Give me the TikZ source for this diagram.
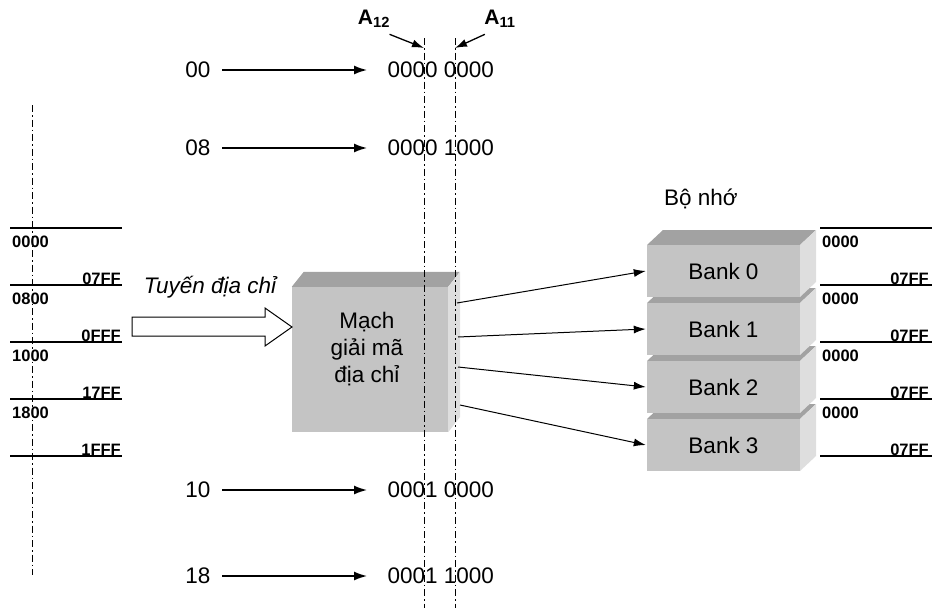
\documentclass[tikz,border=0pt]{standalone}
\usepackage{fontspec}
\setmainfont{Liberation Sans}
\usetikzlibrary{arrows.meta}

\definecolor{facefront}{HTML}{C4C4C4}
\definecolor{facetop}{HTML}{A2A2A2}
\definecolor{faceside}{HTML}{DEDEDE}

\tikzset{
  big/.style={font=\fontsize{22.5}{27}\selectfont},
  addr/.style={font=\fontsize{16.5}{18}\selectfont\bfseries, inner sep=0pt},
  dashdot/.style={line width=0.8pt, dash pattern=on 7pt off 3pt on 1.5pt off 3pt},
  bigtip/.style={-{Latex[length=13pt,width=9pt]}, line width=1.5pt},
  smalltip/.style={-{Latex[length=12pt,width=8pt]}, line width=1pt},
  bank/.style={fill=facefront, minimum width=153pt, minimum height=52pt, inner sep=0pt,
    font=\fontsize{22.5}{27}\selectfont},
}

\begin{document}
\begin{tikzpicture}[x=1pt,y=-1pt]
  \useasboundingbox (0,0) rectangle (932,608);

  % hex -> binary rows
  \foreach \y/\h/\b [count=\n] in {70/00/0000 0000, 148/08/0000 1000, 490/10/0001 0000, 576/18/0001 1000}{
    \node[big] (hex\n) at (198,\y) {\h};
    \node[big, anchor=west] (bin\n) at (384,\y) {\b};
    \draw[bigtip, shorten <=8pt, shorten >=17pt] (hex\n) -- (bin\n); % hex-bin
  }

  % decoder box
  \node[fill=facefront, minimum width=156pt, minimum height=145pt, inner sep=0pt] (dec) at (370,359.5) {};
  \fill[facetop] (dec.north west) -- ++(12,-15) -- ++(156,0) -- (dec.north east) -- cycle;
  \fill[faceside] (dec.north east) -- ++(12,-15) -- ++(0,145) -- (dec.south east) -- cycle;
  \node[big, align=center] (dectxt) at (367,349) {Mạch\\giải mã\\địa chỉ};

  % address bus
  \draw[line width=1pt, fill=white] (132,317) -- (265,317) -- (265,308) -- (292,327)
    -- (265,346) -- (265,336) -- (132,336) -- cycle;
  \node[big, font=\fontsize{22.5}{27}\selectfont\itshape] (bus) at (210,287) {Tuyến địa chỉ};

  % memory banks
  \node[big] (mem) at (701,199) {Bộ nhớ};
  \foreach \i in {3,2,1,0}{
    \fill[facetop] (647,{245+58*\i}) -- ++(16,-15) -- ++(153,0) -- ++(-16,15) -- cycle;
    \fill[faceside] (800,{245+58*\i}) -- ++(16,-15) -- ++(0,52) -- ++(-16,15) -- cycle;
    \node[bank] (bank\i) at (723.5,{271+58*\i}) {Bank \i};
  }

  % decoder -> banks
  \coordinate (out0) at (457,303);
  \coordinate (out1) at (458,337);
  \coordinate (out2) at (458,367);
  \coordinate (out3) at (460,405);
  \foreach \i in {0,...,3}{
    \draw[smalltip] (out\i) -- ([xshift=-1pt]bank\i.west);
  }

  % address ranges
  \foreach \y in {228,285,342,399,456}{
    \draw[line width=1.2pt] (10,\y) -- (122,\y);
    \draw[line width=1.2pt] (820,\y) -- (932,\y);
  }
  \foreach \k/\s/\e in {0/0000/07FF, 1/0800/0FFF, 2/1000/17FF, 3/1800/1FFF}{
    \node[addr, anchor=north west] (lst\k) at (12,{236+57*\k}) {\s};
    \node[addr, anchor=base east] (len\k) at (121,{284+57*\k}) {\e};
    \node[addr, anchor=north west] (rst\k) at (822,{236+57*\k}) {0000};
    \node[addr, anchor=base east] (ren\k) at (929,{284+57*\k}) {07FF};
  }

  % A12 / A11 lines
  \draw[dashdot] (32,105) -- (32,575);
  \draw[dashdot] (424,38) -- (424,608);
  \draw[dashdot] (455,38) -- (455,608);
  \node[font=\fontsize{21}{24}\selectfont\bfseries] (a12) at (374,19) {A\textsubscript{12}};
  \node[font=\fontsize{21}{24}\selectfont\bfseries] (a11) at (500,19) {A\textsubscript{11}};
  \coordinate (t12) at (424,48);
  \coordinate (t11) at (455,48);
  \draw[smalltip, line width=1.3pt] ([shift={(-4pt,-3pt)}]a12.south east) -- (t12);
  \draw[smalltip, line width=1.3pt] ([shift={(4pt,-3pt)}]a11.south west) -- (t11);
\end{tikzpicture}
\end{document}
